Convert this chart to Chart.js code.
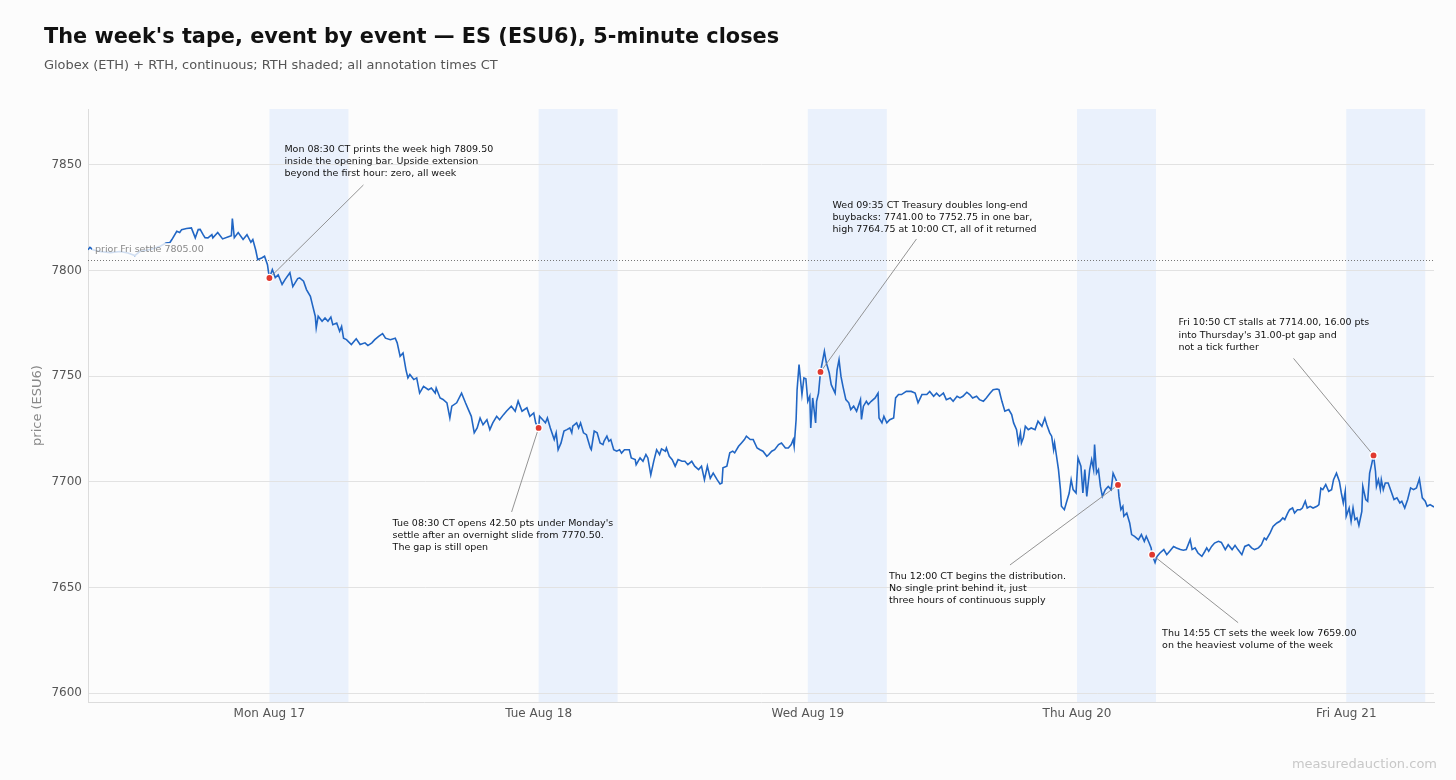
<!DOCTYPE html>
<html>
<head>
<meta charset="utf-8">
<script src="https://cdn.jsdelivr.net/npm/chart.js@4/dist/chart.umd.min.js"></script>
<style>
  html, body { margin: 0; padding: 0; background: #fcfcfc; }
  canvas { display: block; }
</style>
</head>
<body>
<canvas id="tape" width="1456" height="780"></canvas>
<script>
// bar index = 5-minute bars since the Sunday 17:00 CT Globex open
const bars = [
  0, 2, 5, 12, 23, 33, 41, 48, 53, 64, 74, 80, 84, 86, 91, 94, 96, 101, 106, 110,
  113, 115, 118, 120, 123, 127, 128, 133, 138, 144, 147, 148, 150, 154, 159, 163, 167, 169, 172, 174,
  178, 181, 184, 185, 186, 189, 192, 195, 199, 202, 207, 210, 215, 217, 221, 224, 228, 230, 233, 234,
  236, 240, 243, 246, 249, 251, 255, 258, 260, 262, 265, 270, 275, 279, 284, 287, 291, 294, 298, 302,
  305, 310, 315, 317, 320, 323, 326, 328, 330, 334, 337, 340, 344, 349, 352, 356, 357, 361, 364, 368,
  371, 373, 378, 383, 387, 390, 393, 396, 399, 402, 405, 409, 412, 415, 419, 422, 426, 429, 434, 438,
  441, 445, 450, 453, 457, 459, 462, 463, 469, 471, 474, 478, 480, 482, 485, 488, 491, 494, 496, 497,
  501, 503, 505, 508, 511, 515, 516, 519, 522, 525, 528, 529, 532, 534, 536, 539, 542, 545, 547, 550,
  555, 557, 561, 562, 566, 569, 572, 574, 577, 580, 583, 586, 588, 592, 593, 596, 599, 602, 605, 609,
  612, 615, 619, 622, 626, 629, 632, 635, 638, 641, 645, 648, 650, 651, 655, 658, 661, 663, 667, 670,
  673, 675, 679, 682, 686, 689, 692, 696, 698, 701, 704, 708, 711, 715, 718, 721, 723, 724, 726, 727,
  729, 732, 734, 736, 738, 740, 741, 743, 744, 746, 747, 749, 751, 755, 757, 760, 762, 766, 768, 770,
  772, 774, 777, 780, 782, 785, 788, 792, 793, 795, 798, 800, 803, 807, 810, 811, 814, 816, 819, 822,
  826, 828, 831, 834, 839, 844, 848, 851, 855, 860, 863, 867, 870, 873, 877, 880, 884, 887, 891, 894,
  897, 901, 904, 907, 911, 914, 918, 921, 925, 928, 932, 934, 937, 940, 944, 947, 949, 952, 954, 956,
  957, 959, 961, 964, 967, 971, 974, 978, 981, 983, 986, 988, 990, 991, 993, 995, 997, 998, 1001, 1003,
  1006, 1008, 1010, 1013, 1015, 1018, 1020, 1022, 1024, 1027, 1029, 1031, 1032, 1034, 1036, 1038, 1040, 1043, 1046, 1049,
  1051, 1054, 1056, 1057, 1059, 1061, 1062, 1065, 1068, 1070, 1073, 1077, 1080, 1083, 1085, 1088, 1090, 1091, 1094, 1096,
  1099, 1103, 1106, 1109, 1113, 1116, 1120, 1123, 1126, 1130, 1132, 1135, 1138, 1142, 1145, 1147, 1149, 1152, 1155, 1159,
  1162, 1166, 1169, 1173, 1176, 1179, 1183, 1186, 1190, 1193, 1196, 1200, 1203, 1206, 1208, 1212, 1215, 1217, 1219, 1222,
  1225, 1227, 1230, 1232, 1235, 1237, 1240, 1243, 1245, 1248, 1250, 1253, 1256, 1260, 1262, 1264, 1266, 1269, 1272, 1275,
  1277, 1280, 1283, 1285, 1287, 1289, 1290, 1293, 1295, 1297, 1299, 1301, 1303, 1306, 1307, 1310, 1312, 1314, 1316, 1318,
  1320, 1321, 1323, 1325, 1326, 1328, 1330, 1333, 1336, 1339, 1342, 1345, 1347, 1350, 1353, 1356, 1359, 1362, 1365, 1368,
  1371, 1373, 1376, 1380
]
const closes = [
  7809.9, 7811, 7809.9, 7809, 7808.5, 7809, 7808.3, 7807.1, 7809, 7810, 7811.5, 7813, 7813.3, 7814.7, 7818.6, 7818, 7819.4, 7819.9, 7820.2, 7815.5,
  7819.4, 7819.5, 7817, 7815.6, 7815.5, 7817, 7815.5, 7818, 7815, 7816, 7816.5, 7824.6, 7815.6, 7818, 7814.7, 7817, 7813.4, 7814.7, 7809.6, 7805.2,
  7806, 7806.8, 7802.8, 7799.5, 7796.5, 7800.5, 7796.7, 7798, 7793.4, 7795.7, 7799, 7792.4, 7796.2, 7796.5, 7795, 7791, 7787.8, 7784, 7778.4, 7772.9,
  7778.4, 7776, 7777.6, 7776, 7778, 7774.4, 7775.2, 7771.3, 7773.6, 7768, 7767.3, 7765, 7767.7, 7765, 7765.8, 7764.5, 7765.8, 7767.3, 7768.9, 7770.2,
  7768, 7767.3, 7768, 7765.8, 7759.4, 7761, 7753, 7749.2, 7750.8, 7748.4, 7749.2, 7742, 7745.2, 7743.6, 7744.4, 7742, 7744.4, 7739.7, 7739, 7737.4,
  7730.2, 7735.8, 7737.4, 7742, 7737.4, 7734.2, 7731, 7723.2, 7725.5, 7730.2, 7727, 7729.4, 7724.7, 7727.9, 7731, 7729.4, 7731.8, 7733.4, 7735.8, 7733.4,
  7738.2, 7733.4, 7735, 7731, 7732.6, 7727.9, 7725.5, 7731, 7727.9, 7730.2, 7725.5, 7720, 7723.2, 7715.2, 7718.4, 7724, 7724.7, 7725.5, 7723.2, 7726.3,
  7727.9, 7725.5, 7727.9, 7723.2, 7722.3, 7716, 7715.2, 7724, 7723.2, 7718.4, 7717.6, 7719.2, 7721.6, 7719.2, 7720, 7715.2, 7714.5, 7715.2, 7713.6, 7715.2,
  7715.2, 7711.3, 7710.5, 7708.1, 7711.3, 7709.7, 7712.9, 7711.3, 7703.3, 7709.7, 7715.2, 7712.9, 7715.6, 7714.5, 7716, 7712.1, 7710.5, 7707.4, 7710.5, 7709.7,
  7709.7, 7708.1, 7709.7, 7707.4, 7705.8, 7707.4, 7701, 7707.4, 7701.6, 7704.1, 7701, 7699, 7699.4, 7706.6, 7707.4, 7713.7, 7714.5, 7713.7, 7716.8, 7718.4,
  7720, 7721.6, 7720, 7720, 7716, 7715.2, 7714.5, 7712.1, 7712.9, 7714.5, 7715.2, 7717.6, 7718.4, 7716, 7716, 7717.6, 7720, 7716.8, 7729.5, 7743.6,
  7755.5, 7741.3, 7749.2, 7748.8, 7738.1, 7740.5, 7725.5, 7739.7, 7735.8, 7727.9, 7738.1, 7742, 7752, 7761.8, 7756.3, 7751.5, 7746, 7742, 7753, 7757.8,
  7749.9, 7745.2, 7738.9, 7737.4, 7734.2, 7735.8, 7733.4, 7738.9, 7729.5, 7735.8, 7738.1, 7736.6, 7738.1, 7739.7, 7742, 7730.2, 7727.9, 7731, 7727.9, 7729.4,
  7730.2, 7739.7, 7741.3, 7741.3, 7742.8, 7742.8, 7742, 7737.4, 7741.3, 7741.3, 7742.8, 7740.5, 7742, 7740.5, 7742, 7738.9, 7739.7, 7738.1, 7740.5, 7739.7,
  7740.5, 7742.4, 7741.3, 7739.7, 7740.5, 7738.9, 7738.1, 7739.7, 7742, 7743.6, 7743.9, 7743.6, 7738.1, 7733.4, 7734.2, 7731.8, 7727.9, 7724.7, 7718.4, 7723.2,
  7718.4, 7720.8, 7726.3, 7724.7, 7725.5, 7724.7, 7728.7, 7726.3, 7730.2, 7727, 7723.2, 7721.6, 7715.2, 7718.4, 7712.1, 7705.8, 7696.3, 7688.4, 7686.8, 7690,
  7694.7, 7701, 7696.3, 7694.7, 7711.3, 7707.4, 7694.7, 7705.8, 7693.1, 7705.8, 7710.5, 7705.8, 7717.6, 7704.1, 7705.8, 7697.8, 7693.1, 7696.3, 7697.8, 7696.3,
  7704.1, 7701, 7698.5, 7693.1, 7686.8, 7688.4, 7683.7, 7685.2, 7680.5, 7675, 7674.2, 7672.6, 7675, 7671.8, 7674.2, 7671, 7668.7, 7665.5, 7661.8, 7664.7,
  7666.3, 7667.9, 7665.5, 7667.1, 7669.4, 7668.7, 7667.9, 7667.6, 7667.9, 7672.6, 7667.9, 7668.7, 7666.3, 7664.7, 7667, 7668.7, 7667.1, 7669.4, 7671, 7671.8,
  7671.3, 7667.9, 7670.2, 7667.9, 7669.9, 7667.9, 7665.5, 7669.4, 7670.2, 7668.7, 7667.9, 7668.7, 7670.2, 7673.4, 7672.6, 7675.8, 7678.9, 7679.7, 7680.5, 7681.3,
  7682.9, 7682.1, 7685.2, 7686.8, 7687.6, 7685.2, 7686.8, 7686.8, 7687.6, 7690.8, 7687.6, 7688.4, 7687.6, 7688.4, 7689.2, 7697, 7696.3, 7698.7, 7695.5, 7696.3,
  7701, 7704.1, 7700.2, 7694.7, 7690, 7695.5, 7683.7, 7687.6, 7681.3, 7687.6, 7682.1, 7682.9, 7679.3, 7686, 7697.8, 7691.6, 7690.8, 7704.1, 7708.1, 7712.5,
  7705, 7697.8, 7701, 7696.3, 7701, 7696.3, 7699.4, 7699.4, 7695.5, 7691.6, 7692.4, 7690, 7690.8, 7687.6, 7691.6, 7697.1, 7696.3, 7697.1, 7701.4, 7692.4,
  7690.8, 7688.4, 7689.2, 7688.1
]

const dayLabels = ["Mon Aug 17", "Tue Aug 18", "Wed Aug 19", "Thu Aug 20", "Fri Aug 21"]
const rthOpenBars = [186, 462, 738, 1014, 1290]
const RTH_BARS = 81
const TOTAL_BARS = 1380
const yTicks = [7600, 7650, 7700, 7750, 7800, 7850]
const priorSettle = 7805

const eventBars = [186, 462, 751, 1056, 1091, 1318]
const eventCloses = [7796.5, 7725.5, 7752, 7698.5, 7665.5, 7712.5]
const eventNotes = [
  ["Mon 08:30 CT prints the week high 7809.50", "inside the opening bar. Upside extension", "beyond the first hour: zero, all week"],
  ["Tue 08:30 CT opens 42.50 pts under Monday's", "settle after an overnight slide from 7770.50.", "The gap is still open"],
  ["Wed 09:35 CT Treasury doubles long-end", "buybacks: 7741.00 to 7752.75 in one bar,", "high 7764.75 at 10:00 CT, all of it returned"],
  ["Thu 12:00 CT begins the distribution.", "No single print behind it, just", "three hours of continuous supply"],
  ["Thu 14:55 CT sets the week low 7659.00", "on the heaviest volume of the week"],
  ["Fri 10:50 CT stalls at 7714.00, 16.00 pts", "into Thursday's 31.00-pt gap and", "not a tick further"]
]
// pixel offsets from each marker: note text origin and leader start
const noteOffsets = [
  {tx: 15, ty: -126, lx: 94, ly: -93},
  {tx: -146, ty: 98, lx: -27, ly: 84},
  {tx: 12, ty: -164, lx: 96, ly: -133},
  {tx: -229, ty: 94, lx: -108, ly: 80},
  {tx: 10, ty: 81, lx: 86, ly: 68},
  {tx: -195, ty: -130, lx: -80, ly: -97}
]

const FONT = "'DejaVu Sans', 'Noto Sans', sans-serif"
Chart.defaults.font.family = FONT

const tapePlugin = {
  id: "tape",
  beforeDraw(chart) {
    const {ctx, chartArea: a, scales: {x}} = chart
    ctx.save()
    ctx.fillStyle = "#fcfcfc"
    ctx.fillRect(0, 0, chart.width, chart.height)
    ctx.fillStyle = "#eaf1fc"
    rthOpenBars.forEach(b => {
      const x0 = x.getPixelForValue(b)
      const x1 = x.getPixelForValue(b + RTH_BARS)
      ctx.fillRect(x0, a.top, x1 - x0, a.bottom - a.top)
    })
    ctx.restore()
  },
  beforeDatasetsDraw(chart) {
    const {ctx, chartArea: a, scales: {y}} = chart
    const py = Math.round(y.getPixelForValue(priorSettle)) + 0.5
    ctx.save()
    ctx.strokeStyle = "#777"
    ctx.lineWidth = 1
    ctx.setLineDash([1, 2])
    ctx.beginPath()
    ctx.moveTo(a.left, py)
    ctx.lineTo(a.right, py)
    ctx.stroke()
    ctx.restore()
  },
  afterDatasetsDraw(chart) {
    const {ctx, scales: {x, y}} = chart
    ctx.save()
    // settle label with a pale box behind it
    ctx.font = "9.5px " + FONT
    const label = "prior Fri settle 7805.00"
    const lx = x.getPixelForValue(0) + 7
    const ly = y.getPixelForValue(priorSettle) - 8
    const w = ctx.measureText(label).width
    ctx.fillStyle = "rgba(252,252,252,0.8)"
    ctx.fillRect(lx - 3, ly - 9, w + 6, 13)
    ctx.fillStyle = "#888"
    ctx.textBaseline = "alphabetic"
    ctx.fillText(label, lx, ly)

    eventBars.forEach((b, i) => {
      const px = x.getPixelForValue(b)
      const py = y.getPixelForValue(eventCloses[i])
      const o = noteOffsets[i]
      ctx.strokeStyle = "#888"
      ctx.lineWidth = 0.9
      ctx.beginPath()
      ctx.moveTo(px + o.lx, py + o.ly)
      ctx.lineTo(px, py)
      ctx.stroke()
      ctx.fillStyle = "#111"
      ctx.font = "9.5px " + FONT
      eventNotes[i].forEach((line, k) => {
        ctx.fillText(line, px + o.tx, py + o.ty + k * 12.2)
      })
    })
    eventBars.forEach((b, i) => {
      const px = x.getPixelForValue(b)
      const py = y.getPixelForValue(eventCloses[i])
      ctx.beginPath()
      ctx.arc(px, py, 4.3, 0, Math.PI * 2)
      ctx.fillStyle = "#fff"
      ctx.fill()
      ctx.beginPath()
      ctx.arc(px, py, 2.9, 0, Math.PI * 2)
      ctx.fillStyle = "#e0392f"
      ctx.fill()
    })
    ctx.restore()
  },
  afterDraw(chart) {
    const ctx = chart.ctx
    ctx.save()
    ctx.textBaseline = "alphabetic"
    ctx.fillStyle = "#111"
    ctx.font = "bold 20.85px " + FONT
    ctx.fillText("The week's tape, event by event \u2014 ES (ESU6), 5-minute closes", 44, 43)
    ctx.fillStyle = "#555"
    ctx.font = "12.95px " + FONT
    ctx.fillText("Globex (ETH) + RTH, continuous; RTH shaded; all annotation times CT", 44, 69)
    ctx.fillStyle = "#c8c8c8"
    ctx.font = "13px " + FONT
    ctx.textAlign = "right"
    ctx.fillText("measuredauction.com", 1437, 768)
    ctx.restore()
  }
}

const ctx = document.getElementById("tape")
const tapeChart = new Chart(ctx, {
  type: "line",
  data: {
    datasets: [{
      data: bars.map((b, i) => ({x: b, y: closes[i]})),
      borderColor: "#2166c4",
      borderWidth: 1.6,
      pointRadius: 0,
      tension: 0,
      fill: false
    }]
  },
  options: {
    responsive: false,
    animation: false,
    layout: {padding: {top: 109, right: 22, bottom: 48, left: 26}},
    plugins: {
      legend: {display: false},
      tooltip: {enabled: false}
    },
    scales: {
      x: {
        type: "linear",
        min: 0,
        max: TOTAL_BARS,
        afterBuildTicks: s => { s.ticks = rthOpenBars.map(v => ({value: v})) },
        afterFit: s => { s.height = 30 },
        grid: {display: false, drawTicks: false},
        border: {color: "#dcdcdc"},
        ticks: {
          callback: (v, i) => dayLabels[i],
          color: "#555",
          font: {size: 12},
          padding: 5,
          maxRotation: 0,
          autoSkip: false
        }
      },
      y: {
        min: 7595.75,
        max: 7876.5,
        afterBuildTicks: s => { s.ticks = yTicks.map(v => ({value: v})) },
        afterFit: s => { s.width = 62 },
        grid: {color: "#e2e2e2", drawTicks: false},
        border: {color: "#dcdcdc"},
        ticks: {color: "#555", font: {size: 12}, padding: 6, callback: v => String(v)},
        title: {display: true, text: "price (ESU6)", color: "#888", font: {size: 13}}
      }
    }
  },
  plugins: [tapePlugin]
})
</script>
</body>
</html>
